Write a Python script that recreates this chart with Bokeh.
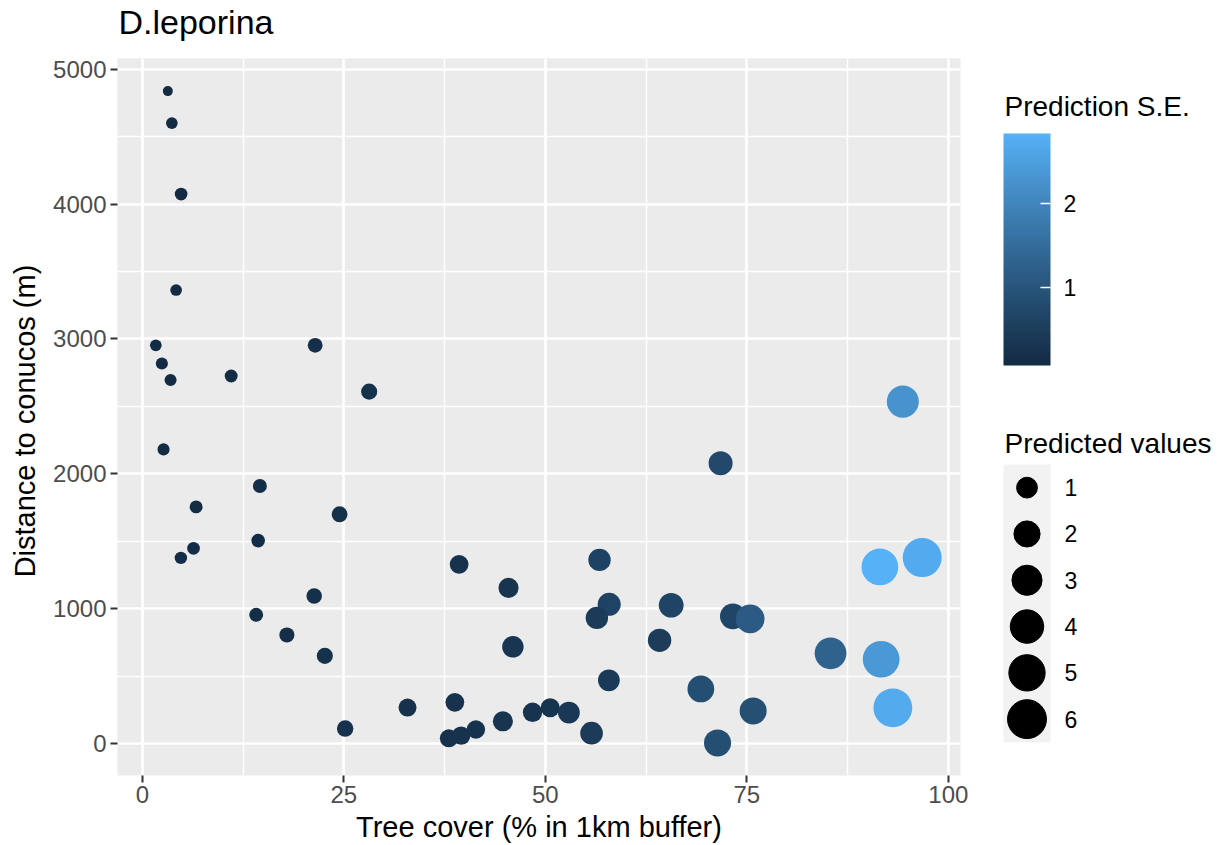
import math

from bokeh.core.properties import value
from bokeh.embed import file_html
from bokeh.layouts import column, row
from bokeh.models import ColorBar, ColumnDataSource, FixedTicker, LinearColorMapper, Range1d
from bokeh.plotting import figure
from bokeh.resources import INLINE

# ---------------------------------------------------------------- data
tree_cover = [3.16, 3.66, 4.81, 4.19, 1.67, 2.42, 3.50, 11.02, 21.44, 28.14,
              2.63, 14.58, 6.67, 24.47, 6.35, 4.78, 14.37, 21.32, 14.12, 17.93,
              22.64, 25.16, 32.90, 38.77, 38.03, 39.55, 41.38, 39.30, 45.43, 45.97,
              44.73, 48.41, 50.60, 52.92, 55.73, 56.72, 57.92, 56.39, 57.88, 64.17,
              65.61, 69.29, 71.74, 71.36, 73.26, 75.41, 75.78, 85.38, 94.35, 91.50,
              96.75, 91.66, 93.11]
distance_m = [4837, 4600, 4074, 3363, 2953, 2819, 2696, 2726, 2953, 2610,
              2182, 1911, 1756, 1701, 1449, 1378, 1506, 1096, 956, 807,
              652, 113, 269, 308, 41, 61, 106, 1330, 1156, 719,
              167, 234, 267, 232, 79, 1363, 1034, 933, 471, 767,
              1027, 407, 2079, 7, 945, 926, 244, 671, 2536, 1311,
              1380, 627, 267]
predicted = [0.19, 0.21, 0.24, 0.21, 0.21, 0.22, 0.22, 0.25, 0.35, 0.45,
             0.22, 0.30, 0.25, 0.43, 0.24, 0.23, 0.28, 0.40, 0.30, 0.37,
             0.45, 0.48, 0.63, 0.72, 0.64, 0.68, 0.68, 0.72, 0.90, 1.10,
             0.90, 0.80, 0.76, 1.15, 1.30, 1.25, 1.37, 1.25, 1.15, 1.43,
             1.70, 2.13, 1.56, 2.20, 1.90, 2.63, 2.20, 3.47, 3.56, 5.15,
             6.02, 5.15, 5.95]
pred_se = [0.07, 0.08, 0.10, 0.09, 0.08, 0.09, 0.10, 0.12, 0.16, 0.20,
           0.10, 0.14, 0.12, 0.20, 0.11, 0.11, 0.13, 0.18, 0.14, 0.17,
           0.20, 0.22, 0.22, 0.24, 0.23, 0.25, 0.25, 0.24, 0.30, 0.32,
           0.30, 0.28, 0.28, 0.38, 0.44, 0.60, 0.63, 0.44, 0.42, 0.46,
           0.65, 0.85, 0.76, 0.85, 0.68, 1.15, 0.90, 1.29, 2.26, 2.84,
           2.70, 2.36, 2.72]

x_ticks = [0, 25, 50, 75, 100]
y_ticks = [0, 1000, 2000, 3000, 4000, 5000]
se_breaks = [1, 2]
size_breaks = [1, 2, 3, 4, 5, 6]

TITLE = "D.leporina"
X_LABEL = "Tree cover (% in 1km buffer)"
Y_LABEL = "Distance to conucos  (m)"
SE_TITLE = "Prediction S.E."
SIZE_TITLE = "Predicted values"

FONT = "Liberation Sans"


# ---------------------------------------------------------------- helpers
def _lin(c):
    c = c / 255.0
    return c / 12.92 if c <= 0.04045 else ((c + 0.055) / 1.055) ** 2.4


def _gam(c):
    c = 12.92 * c if c <= 0.0031308 else 1.055 * c ** (1 / 2.4) - 0.055
    return min(255, max(0, round(c * 255)))


_WHITE = (0.95047, 1.0, 1.08883)


def hex_to_lab(h):
    r, g, b = (_lin(int(h[i:i + 2], 16)) for i in (1, 3, 5))
    X = 0.4124564 * r + 0.3575761 * g + 0.1804375 * b
    Y = 0.2126729 * r + 0.7151522 * g + 0.0721750 * b
    Z = 0.0193339 * r + 0.1191920 * g + 0.9503041 * b

    def f(t):
        return t ** (1 / 3) if t > (6 / 29) ** 3 else t / (3 * (6 / 29) ** 2) + 4 / 29

    fx, fy, fz = f(X / _WHITE[0]), f(Y / _WHITE[1]), f(Z / _WHITE[2])
    return 116 * fy - 16, 500 * (fx - fy), 200 * (fy - fz)


def lab_to_hex(L, a, b):
    fy = (L + 16) / 116
    fx = fy + a / 500
    fz = fy - b / 200

    def finv(t):
        return t ** 3 if t > 6 / 29 else 3 * (6 / 29) ** 2 * (t - 4 / 29)

    X, Y, Z = finv(fx) * _WHITE[0], finv(fy) * _WHITE[1], finv(fz) * _WHITE[2]
    r = 3.2404542 * X - 1.5371385 * Y - 0.4985314 * Z
    g = -0.9692660 * X + 1.8760108 * Y + 0.0415560 * Z
    bb = 0.0556434 * X - 0.2040259 * Y + 1.0572252 * Z
    return "#%02x%02x%02x" % (_gam(r), _gam(g), _gam(bb))


def lab_ramp(c0, c1, n=256):
    l0, l1 = hex_to_lab(c0), hex_to_lab(c1)
    out = []
    for i in range(n):
        t = i / (n - 1)
        out.append(lab_to_hex(*[u + (v - u) * t for u, v in zip(l0, l1)]))
    return out


def expand(vals, frac=0.05):
    lo, hi = min(vals), max(vals)
    pad = (hi - lo) * frac
    return lo - pad, hi + pad


def mid_from_baseline(baseline, font_px):
    # vertical centre of a cap-height line whose baseline sits at `baseline`
    return baseline - 0.37 * font_px


P_LO, P_HI = min(predicted), max(predicted)


def point_diameter(v):
    # area scale: 1..6 size units, converted to pixels
    s = 1 + 5 * math.sqrt(max(0.0, (v - P_LO) / (P_HI - P_LO)))
    return 4.2 + 5.8 * s


# ---------------------------------------------------------------- layout constants
W, H = 1227, 845
MAIN_W = 980
TITLE_H = 44                     # strip holding the plot title
TOP, BOTTOM = 58, 70             # panel top / bottom margins on the page
FRAME_TOP, FRAME_BOT = TOP, H - BOTTOM
BODY_H = H - TITLE_H

# ---------------------------------------------------------------- title strip
head = figure(width=W, height=TITLE_H, x_range=Range1d(0, W), y_range=Range1d(TITLE_H, 0),
              min_border=0, x_axis_type=None, y_axis_type=None,
              output_backend="svg", toolbar_location=None)
head.outline_line_color = None
head.background_fill_color = "white"
head.border_fill_color = "white"
head.grid.grid_line_color = None
head.text(x=[118], y=[mid_from_baseline(34, 34)], text=[TITLE], text_font=value(FONT),
          text_font_size="34px", text_baseline="middle", text_align="left", text_color="black")

# ---------------------------------------------------------------- main panel
mapper = LinearColorMapper(palette=lab_ramp("#132B43", "#56B1F7"),
                           low=min(pred_se), high=max(pred_se))

src = ColumnDataSource(dict(
    x=tree_cover, y=distance_m, se=pred_se,
    size=[point_diameter(v) for v in predicted],
))

p = figure(width=MAIN_W, height=BODY_H,
           x_range=Range1d(*expand(tree_cover)), y_range=Range1d(*expand(distance_m)),
           min_border_left=117, min_border_right=20,
           min_border_top=TOP - TITLE_H, min_border_bottom=BOTTOM,
           output_backend="svg", toolbar_location=None)

p.background_fill_color = "#EBEBEB"
p.border_fill_color = "white"
p.outline_line_color = None


def minors(ticks):
    return [(a + b) / 2 for a, b in zip(ticks[:-1], ticks[1:])]


p.xaxis.ticker = FixedTicker(ticks=x_ticks, minor_ticks=minors(x_ticks))
p.yaxis.ticker = FixedTicker(ticks=y_ticks, minor_ticks=minors(y_ticks))

for ax in (p.xaxis, p.yaxis):
    ax.axis_line_color = None
    ax.major_tick_line_color = "#333333"
    ax.major_tick_line_width = 2
    ax.major_tick_out = 7
    ax.major_tick_in = 0
    ax.minor_tick_line_color = None
    ax.major_label_text_font = FONT
    ax.major_label_text_font_size = "24px"
    ax.major_label_text_color = "#4D4D4D"
    ax.axis_label_text_font = FONT
    ax.axis_label_text_font_size = "29px"
    ax.axis_label_text_font_style = "normal"
    ax.axis_label_text_color = "black"

p.xaxis.axis_label = X_LABEL
p.yaxis.axis_label = Y_LABEL
p.xaxis.major_label_standoff = 3
p.xaxis.axis_label_standoff = 5
p.yaxis.major_label_standoff = 4
p.yaxis.axis_label_standoff = 9

for g in (p.xgrid, p.ygrid):
    g.grid_line_color = "white"
    g.grid_line_width = 2.7
    g.minor_grid_line_color = "white"
    g.minor_grid_line_width = 1.4

p.scatter("x", "y", size="size", source=src,
          fill_color={"field": "se", "transform": mapper}, line_color=None)

# ---------------------------------------------------------------- legends
leg = figure(width=W - MAIN_W, height=BODY_H,
             x_range=Range1d(MAIN_W, W), y_range=Range1d(FRAME_BOT, FRAME_TOP),
             min_border_left=0, min_border_right=0,
             min_border_top=TOP - TITLE_H, min_border_bottom=BOTTOM,
             x_axis_type=None, y_axis_type=None,
             output_backend="svg", toolbar_location=None)
leg.outline_line_color = None
leg.background_fill_color = "white"
leg.border_fill_color = "white"
leg.grid.grid_line_color = None

KEY_L, KEY_R = 1003, 1050
LABEL_X = 1064
BAR_TOP, BAR_BOT = 133, 365

# colour bar
leg.text(x=[KEY_L + 1], y=[mid_from_baseline(116, 28)], text=[SE_TITLE], text_font=value(FONT),
         text_font_size="28px", text_baseline="middle", text_align="left", text_color="black")
cb = ColorBar(color_mapper=mapper, orientation="vertical",
              location=(KEY_L - MAIN_W, FRAME_BOT - BAR_BOT),
              width=KEY_R - KEY_L, height=BAR_BOT - BAR_TOP,
              padding=0, margin=0,
              ticker=FixedTicker(ticks=se_breaks),
              major_label_text_font=FONT, major_label_text_font_size="23px",
              major_label_text_color="black", label_standoff=13,
              major_tick_line_color="white", major_tick_line_width=1.5,
              major_tick_in=10, major_tick_out=0,
              minor_tick_line_color=None, bar_line_color=None,
              border_line_color=None, background_fill_color=None)
leg.add_layout(cb)

# left-edge ticks of the colour bar
se_lo, se_hi = mapper.low, mapper.high
tick_y = [BAR_BOT - (v - se_lo) / (se_hi - se_lo) * (BAR_BOT - BAR_TOP) for v in se_breaks]
leg.segment(x0=[KEY_L] * len(tick_y), x1=[KEY_L + 10] * len(tick_y), y0=tick_y, y1=tick_y,
            line_color="white", line_width=1.5)

# size legend
leg.text(x=[KEY_L + 1], y=[mid_from_baseline(453, 28)], text=[SIZE_TITLE], text_font=value(FONT),
         text_font_size="28px", text_baseline="middle", text_align="left", text_color="black")
KEYS_TOP, KEY_H = 464, 46.3
leg.quad(left=[KEY_L], right=[KEY_R], top=[KEYS_TOP], bottom=[KEYS_TOP + KEY_H * len(size_breaks)],
         fill_color="#F2F2F2", line_color=None)
key_y = [KEYS_TOP + KEY_H * (i + 0.5) for i in range(len(size_breaks))]
leg.scatter(x=[(KEY_L + KEY_R) / 2] * len(size_breaks), y=key_y,
            size=[point_diameter(v) for v in size_breaks], color="black")
leg.text(x=[LABEL_X] * len(size_breaks), y=key_y, text=[str(v) for v in size_breaks],
         text_font=value(FONT), text_font_size="23px", text_baseline="middle",
         text_align="left", text_color="black")

layout = column(head, row(p, leg, spacing=0), spacing=0)
open("out.html", "w").write(file_html(layout, INLINE))
